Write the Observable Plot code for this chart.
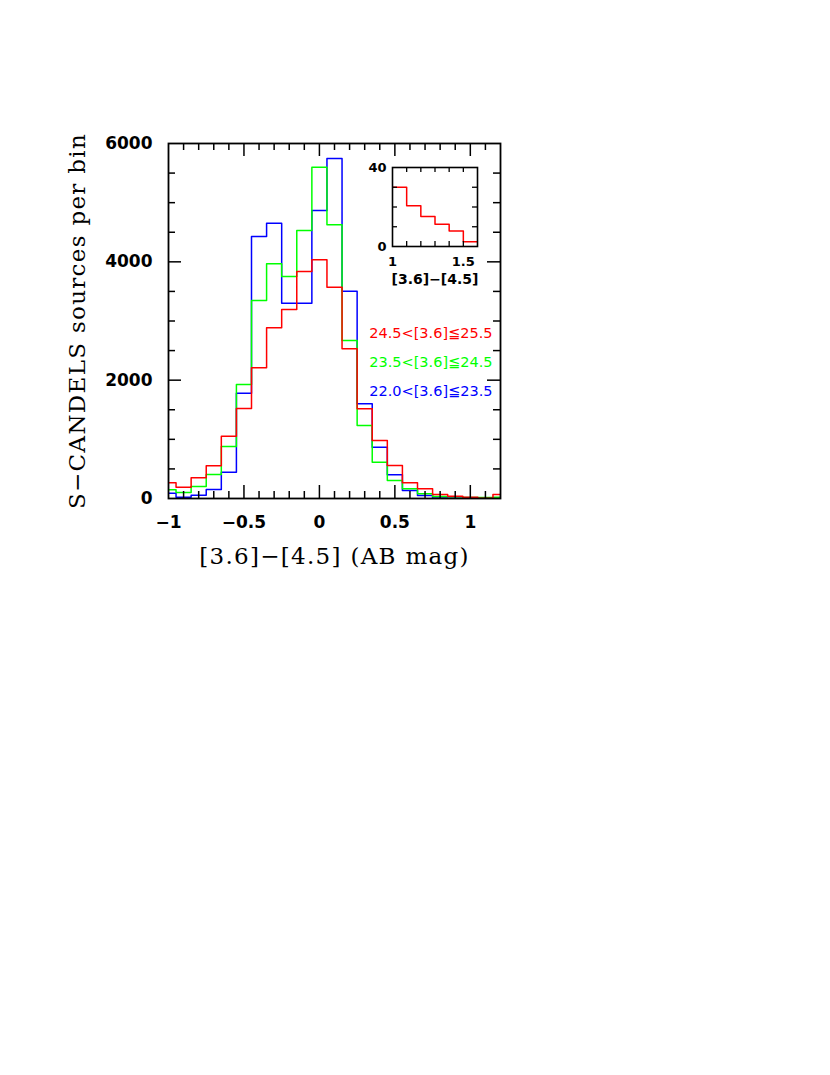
<!DOCTYPE html>
<html><head><meta charset="utf-8">
<script src="https://cdn.jsdelivr.net/npm/d3@7"></script>
<script src="https://cdn.jsdelivr.net/npm/@observablehq/plot@0.6"></script>
<style>
body{margin:0;background:#fff;}
#wrap{position:relative;width:830px;height:1075px;}
#main{position:absolute;left:0;top:0;}
#inset{position:absolute;left:350px;top:150px;}
</style></head><body><div id="wrap"><div id="main"></div><div id="inset"></div></div>
<script>
// ---- data ----
const binCenters = [-1.0,-0.9,-0.8,-0.7,-0.6,-0.5,-0.4,-0.3,-0.2,-0.1,0.0,0.1,0.2,0.3,0.4,0.5,0.6,0.7,0.8,0.9,1.0,1.1,1.2];
const binWidth = 0.1;
const redCounts   = [265,191,349,552,1053,1521,2209,2885,3194,3836,4034,3571,2529,1516,980,558,265,164,68,40,22,5,68];
const greenCounts = [147,101,203,406,879,1927,3346,3966,3752,4529,5600,4625,2670,1234,614,304,164,79,34,30,15,15,20];
const blueCounts  = [90,22,56,152,445,1780,4428,4653,3301,3301,4867,5746,3504,1600,867,400,135,50,10,5,5,3,5];
const seriesLabels = ["22.0<[3.6]≦23.5","23.5<[3.6]≦24.5","24.5<[3.6]≦25.5"];
const seriesColors = ["#0000ff","#00ff00","#ff0000"];
const legendOrder = ["24.5<[3.6]≦25.5","23.5<[3.6]≦24.5","22.0<[3.6]≦23.5"];

const xTickValues = [-1,-0.5,0,0.5,1];
const xTickLabels = ["\u22121","\u22120.5","0","0.5","1"];
const xMajorTicks = [-0.5,0,0.5,1];
const xMinorTicks = [-0.9,-0.8,-0.7,-0.6,-0.4,-0.3,-0.2,-0.1,0.1,0.2,0.3,0.4,0.6,0.7,0.8,0.9,1.1];
const yTickValues = [0,2000,4000,6000];
const yTickLabels = ["0","2000","4000","6000"];
const yMajorTicks = [2000,4000];
const yMinorTicks = [500,1000,1500,2500,3000,3500,4500,5000,5500];

// inset (red tail)
const insetBinStarts = [1.0,1.1,1.2,1.3,1.4,1.5];
const insetCounts = [30,20.6,15.2,11.3,7.9,2.4];
const insetXTicks = [1.1,1.2,1.3,1.4,1.5];
const insetYTicks = [10,20,30];
const insetXLabelValues = [1,1.5];
const insetXLabels = ["1","1.5"];
const insetYLabelValues = [0,40];
const insetYLabels = ["0","40"];

const xTitle = "[3.6]\u2212[4.5] (AB mag)";
const yTitle = "S\u2212CANDELS sources per bin";
const insetTitle = "[3.6]\u2212[4.5]";

// ---- build step outlines ----
function steps(values, label){
  const pts = binCenters.map((c,i)=>({x:c-binWidth/2, y:values[i], s:label}));
  pts.push({x:binCenters[binCenters.length-1]+binWidth/2, y:values[values.length-1], s:label});
  return pts;
}
const stepData = [
  ...steps(blueCounts, seriesLabels[0]),
  ...steps(greenCounts, seriesLabels[1]),
  ...steps(redCounts, seriesLabels[2])
];

const W=830, H=600, mL=168, mR=330, mT=143, mB=102;
const fw = W-mL-mR, fh = H-mT-mB;
const tickFont = {fontFamily:"DejaVu Sans", fontWeight:"bold", fontSize:17, fill:"black"};
const major = 13, minor = 7;
const rowDy = [189.5, 218.7, 247.7];
const legendMarks = legendOrder.map((lab,i)=>Plot.text([lab], {frameAnchor:"top-right", dx:-8, dy:rowDy[i], text:d=>d,
    fill:seriesColors[seriesLabels.indexOf(lab)], textAnchor:"end", lineAnchor:"middle",
    fontFamily:"DejaVu Sans", fontSize:14.5}));

const main = Plot.plot({
  width:W, height:H, marginLeft:mL, marginRight:mR, marginTop:mT, marginBottom:mB,
  style:{background:"white", overflow:"visible"},
  x:{domain:[-1,1.2], axis:null},
  y:{domain:[0,6000], axis:null},
  color:{domain:seriesLabels, range:seriesColors},
  marks:[
    Plot.line(stepData, {x:"x", y:"y", z:"s", stroke:"s", curve:"step-after", clip:true, strokeWidth:1.5}),
    Plot.tickX(xMinorTicks, {x:d=>d, insetTop:fh-minor, strokeWidth:1.5}),
    Plot.tickX(xMinorTicks, {x:d=>d, insetBottom:fh-minor, strokeWidth:1.5}),
    Plot.tickX(xMajorTicks, {x:d=>d, insetTop:fh-major, strokeWidth:1.5}),
    Plot.tickX(xMajorTicks, {x:d=>d, insetBottom:fh-major, strokeWidth:1.5}),
    Plot.tickY(yMinorTicks, {y:d=>d, insetRight:fw-minor, strokeWidth:1.5}),
    Plot.tickY(yMinorTicks, {y:d=>d, insetLeft:fw-minor, strokeWidth:1.5}),
    Plot.tickY(yMajorTicks, {y:d=>d, insetRight:fw-major, strokeWidth:1.5}),
    Plot.tickY(yMajorTicks, {y:d=>d, insetLeft:fw-major, strokeWidth:1.5}),
    Plot.frame({stroke:"black", strokeWidth:1.8}),
    Plot.axisX(xTickValues, {anchor:"bottom", tickSize:0, tickPadding:17, label:null,
      tickFormat:d=>xTickLabels[xTickValues.indexOf(d)], ...tickFont}),
    Plot.axisY(yTickValues, {anchor:"left", tickSize:0, tickPadding:16, label:null,
      tickFormat:d=>yTickLabels[yTickValues.indexOf(d)], ...tickFont}),
    Plot.text([xTitle], {frameAnchor:"bottom", dy:58, lineAnchor:"middle", textAnchor:"middle", text:d=>d,
      fontFamily:"DejaVu Serif", fontSize:23, fill:"black"}),
    Plot.text([yTitle], {frameAnchor:"left", dx:-91, rotate:-90, lineAnchor:"middle", textAnchor:"middle", text:d=>d,
      fontFamily:"DejaVu Serif", fontSize:23, fill:"black"}),
    ...legendMarks
  ]
});
// widen the serif axis titles slightly (letter spacing as in the original typeface)
main.querySelectorAll("text").forEach(t => {
  if (t.textContent === xTitle || t.textContent === yTitle) t.style.letterSpacing = "1.3px";
});
document.getElementById("main").appendChild(main);

// ---- inset ----
const iW=140, iH=145, imL=42, imR=13, imT=17, imB=49;
const ifw=iW-imL-imR, ifh=iH-imT-imB;
const insetSteps = insetBinStarts.map((x,i)=>({x, y:insetCounts[i]}));
insetSteps.push({x:insetBinStarts[insetBinStarts.length-1]+binWidth, y:insetCounts[insetCounts.length-1]});
const iFont = {fontFamily:"DejaVu Sans", fontWeight:"bold", fontSize:13, fill:"black"};
const it = 5;
const inset = Plot.plot({
  width:iW, height:iH, marginLeft:imL, marginRight:imR, marginTop:imT, marginBottom:imB,
  style:{background:"transparent", overflow:"visible"},
  x:{domain:[1,1.6], axis:null},
  y:{domain:[0,40], axis:null},
  marks:[
    Plot.frame({fill:"white"}),
    Plot.line(insetSteps, {x:"x", y:"y", curve:"step-after", stroke:"#ff0000", strokeWidth:1.5, clip:true}),
    Plot.tickX(insetXTicks, {x:d=>d, insetTop:ifh-it, strokeWidth:1.3}),
    Plot.tickX(insetXTicks, {x:d=>d, insetBottom:ifh-it, strokeWidth:1.3}),
    Plot.tickY(insetYTicks, {y:d=>d, insetRight:ifw-it, strokeWidth:1.3}),
    Plot.tickY(insetYTicks, {y:d=>d, insetLeft:ifw-it, strokeWidth:1.3}),
    Plot.frame({stroke:"black", strokeWidth:1.6}),
    Plot.axisX(insetXLabelValues, {anchor:"bottom", tickSize:0, tickPadding:10, label:null,
      tickFormat:d=>insetXLabels[insetXLabelValues.indexOf(d)], ...iFont}),
    Plot.axisY(insetYLabelValues, {anchor:"left", tickSize:0, tickPadding:6, label:null,
      tickFormat:d=>insetYLabels[insetYLabelValues.indexOf(d)], ...iFont}),
    Plot.text([insetTitle], {frameAnchor:"bottom", dy:33, lineAnchor:"middle", text:d=>d,
      fontFamily:"DejaVu Sans", fontWeight:"bold", fontSize:14, fill:"black"})
  ]
});
document.getElementById("inset").appendChild(inset);
</script>
</body></html>
